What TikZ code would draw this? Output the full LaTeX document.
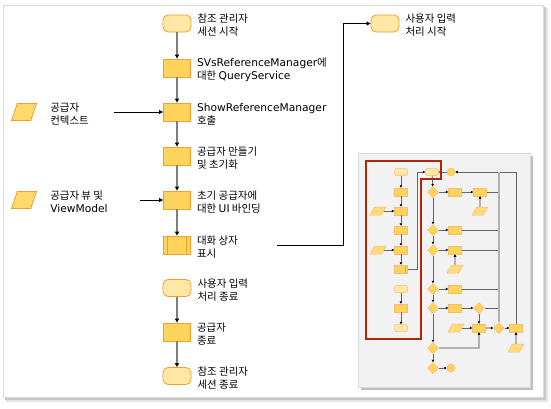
\documentclass[tikz,border=0pt]{standalone}
\usepackage{fontspec}
\setmainfont{Noto Sans CJK KR}
\newfontfamily\latfont{DejaVu Sans}[Scale=1.02]
\newcommand{\latn}[1]{{\latfont #1}}
\usetikzlibrary{shapes.geometric,arrows.meta}
\definecolor{termfill}{HTML}{FFE7A6}
\definecolor{boxfill}{HTML}{FFD35C}
\definecolor{edge}{HTML}{F0A030}
\definecolor{flow}{HTML}{7F7F7F}
\definecolor{hilite}{HTML}{B02408}

\begin{document}
\begin{tikzpicture}[x=1bp, y=-1bp,
  txt/.style={font=\fontsize{10.5}{13}\selectfont, align=left, inner sep=0pt, anchor=west},
  term/.style={draw=edge, fill=termfill, rounded corners=5bp, minimum width=28bp, minimum height=17bp, inner sep=0pt, line width=0.8bp},
  proc/.style={draw=edge, fill=boxfill, minimum width=27bp, minimum height=18bp, inner sep=0pt, line width=0.8bp},
  subproc/.style={proc, path picture={
    \draw[edge, line width=0.6bp] ([xshift=4bp]path picture bounding box.north west) -- ([xshift=4bp]path picture bounding box.south west)
      ([xshift=-4bp]path picture bounding box.north east) -- ([xshift=-4bp]path picture bounding box.south east);}},
  data/.style={trapezium, trapezium left angle=67, trapezium right angle=113, trapezium stretches=true, draw=edge, fill=boxfill!75!termfill, minimum width=25bp, minimum height=17bp, inner sep=1bp, line width=0.8bp},
  flowarr/.style={draw=flow, line width=1.6bp, -{Triangle[black, length=4bp, width=4bp]}},
  feed/.style={black, line width=0.7bp, -{Triangle[length=4bp, width=4bp]}},
  % thumbnail
  mterm/.style={draw=edge!70, fill=termfill, rounded corners=2bp, minimum width=13bp, minimum height=7bp, inner sep=0pt, line width=0.5bp},
  mproc/.style={draw=edge!70, fill=boxfill, minimum width=13bp, minimum height=8bp, inner sep=0pt, line width=0.5bp},
  msub/.style={mproc, path picture={
    \draw[edge, line width=0.4bp] ([xshift=-2bp]path picture bounding box.north east) -- ([xshift=-2bp]path picture bounding box.south east);}},
  mdata/.style={trapezium, trapezium left angle=55, trapezium right angle=125, trapezium stretches=true, draw=edge!70, fill=boxfill!60!termfill, minimum width=16bp, minimum height=8bp, inner sep=0.5bp, line width=0.5bp},
  mdia/.style={diamond, draw=edge!70, fill=boxfill, minimum width=11bp, minimum height=11bp, inner sep=0pt, line width=0.5bp},
  mcirc/.style={circle, draw=edge!70, fill=boxfill, minimum size=8bp, inner sep=0pt, line width=0.5bp},
  mline/.style={draw=black!60, line width=0.7bp},
  marr/.style={mline, -{Triangle[black, length=2.5bp, width=2.5bp]}},
  mthick/.style={draw=black!30, line width=2bp, -{Triangle[black, length=2.5bp, width=2.5bp]}}]
\useasboundingbox (0,0) rectangle (551,408);

% frame
\fill[black!10] (6,8) rectangle (548,402);
\fill[black!22] (5,7) rectangle (546,400);
\draw[black!15, fill=white] (3,5) rectangle (543,397);

% main flow
\node[term] (sessStart) at (177,23.5) {};
\node[proc] (queryServ) at (177,68) {};
\node[proc] (showMgr) at (177,112) {};
\node[proc] (createProv) at (177,156) {};
\node[proc] (bindUI) at (177,200) {};
\node[subproc] (showDlg) at (177,245) {};
\node[term] (inputEnd) at (177,288) {};
\node[proc] (closeProv) at (177,332) {};
\node[term] (sessEnd) at (177,376) {};
\node[term] (inputStart) at (385,23.5) {};
\node[data] (provCtx) at (24,112) {};
\node[data] (provView) at (24,200) {};

% labels
\node[txt] at ([xshift=6bp, yshift=-2bp]sessStart.east) {참조 관리자\\세션 시작};
\node[txt] at ([xshift=6bp, yshift=-2bp]queryServ.east) {\latn{SVsReferenceManager}에\\대한 \latn{QueryService}};
\node[txt] at ([xshift=6bp, yshift=-2bp]showMgr.east) {\latn{ShowReferenceManager}\\호출};
\node[txt] at ([xshift=6bp, yshift=-2bp]createProv.east) {공급자 만들기\\및 초기화};
\node[txt] at ([xshift=6bp, yshift=-2bp]bindUI.east) {초기 공급자에\\대한 \latn{UI} 바인딩};
\node[txt] at ([xshift=6bp, yshift=-2bp]showDlg.east) {대화 상자\\표시};
\node[txt] at ([xshift=6bp, yshift=-2bp]inputEnd.east) {사용자 입력\\처리 종료};
\node[txt] at ([xshift=6bp, yshift=-2bp]closeProv.east) {공급자\\종료};
\node[txt] at ([xshift=6bp, yshift=-2bp]sessEnd.east) {참조 관리자\\세션 종료};
\node[txt] at ([xshift=6bp, yshift=-2bp]inputStart.east) {사용자 입력\\처리 시작};
\node[txt] at ([xshift=16bp, yshift=-2bp]provCtx.east) {공급자\\컨텍스트};
\node[txt] at ([xshift=16bp, yshift=-2bp]provView.east) {공급자 뷰 및\\\latn{ViewModel}};

% connectors
\foreach \a/\b in {sessStart/queryServ, queryServ/showMgr, showMgr/createProv, createProv/bindUI, bindUI/showDlg, inputEnd/closeProv, closeProv/sessEnd}
  \draw[flowarr] (\a) -- (\b);
\coordinate (ctxOut) at (114,112);
\coordinate (viewOut) at (140,200);
\coordinate (dlgOut) at (277,245);
\draw[feed] (ctxOut) -- (showMgr);
\draw[feed] (viewOut) -- (bindUI);
\draw[feed] (dlgOut) -- (343,245) |- (inputStart);

% thumbnail
\fill[black!25] (361,156) rectangle (533,390);
\draw[black!15, fill=black!5] (358,153) rectangle (530,387);

\node[mterm] (m1) at (401,172) {};
\node[mproc] (m2) at (401,192) {};
\node[mproc] (m3) at (401,211) {};
\node[mproc] (m4) at (401,230) {};
\node[mproc] (m5) at (401,250) {};
\node[msub] (m6) at (401,269) {};
\node[mterm] (m7) at (401,289) {};
\node[mproc] (m8) at (401,308) {};
\node[mterm] (m9) at (401,328) {};
\node[mdata] (md1) at (378,211) {};
\node[mdata] (md2) at (378,250) {};

\node[mterm] (r0) at (432,172) {};
\node[mcirc] (rc) at (451,172) {};
\node[mdia] (q1) at (433,192) {};
\node[mdia] (q2) at (433,230) {};
\node[mdia] (q3) at (433,250) {};
\node[mdia] (q4) at (433,289) {};
\node[mdia] (q5) at (433,308) {};
\node[mdia] (q6) at (433,348) {};
\node[mdia] (q7) at (433,368) {};
\node[mcirc] (re) at (451,368) {};
\node[mproc] (b1) at (455,192) {};
\node[mproc] (b2) at (480,192) {};
\node[mproc] (b3) at (455,230) {};
\node[mproc] (b4) at (455,250) {};
\node[mproc] (b5) at (455,289) {};
\node[mproc] (b6) at (455,308) {};
\node[mdia] (q8) at (479,308) {};
\node[mproc] (b7) at (479,328) {};
\node[mdia] (qd) at (499,328) {};
\node[mproc] (b8) at (516,328) {};
\node[mdata] (e1) at (480,211) {};
\node[mdata] (e2) at (455,269) {};
\node[mdata] (e3) at (456,328) {};
\node[mdata] (e4) at (516,348) {};

\foreach \a/\b in {m1/m2, m2/m3, m3/m4, m4/m5, m5/m6, m7/m8, m8/m9, md1/m3, md2/m5,
    r0/q1, q1/q2, q2/q3, q3/q4, q4/q5, q5/q6, q6/q7, q7/re,
    q1/b1, b1/b2, q2/b3, q3/b4, q4/b5, q5/b6, b6/q8, q8/b7, e3/b7, qd/b8}
  \draw[marr] (\a) -- (\b);
\draw[marr] (m6) -- (417,269) |- (r0);
\draw[marr] (rc) -- (r0);
\draw[marr] (b8) |- (rc);
\foreach \n in {b2, b3, b4, b5, q8}
  \draw[mline] (\n) -- (499,0 |- \n);
\draw[black!30, line width=2.5bp] (499,172) -- (qd);
\draw[mthick] (e1) -- (b2);
\draw[mthick] (e2) -- (b4);
\draw[mthick] (e4) -- (b8);
\draw[mthick] (b7) -- (qd);
\draw[mthick] (q6) -| (b7);

% highlight
\draw[hilite, line width=2bp] (366,161) -- (441,161) -- (441,179) -- (421,179) -- (421,339) -- (366,339) -- cycle;
\end{tikzpicture}
\end{document}
